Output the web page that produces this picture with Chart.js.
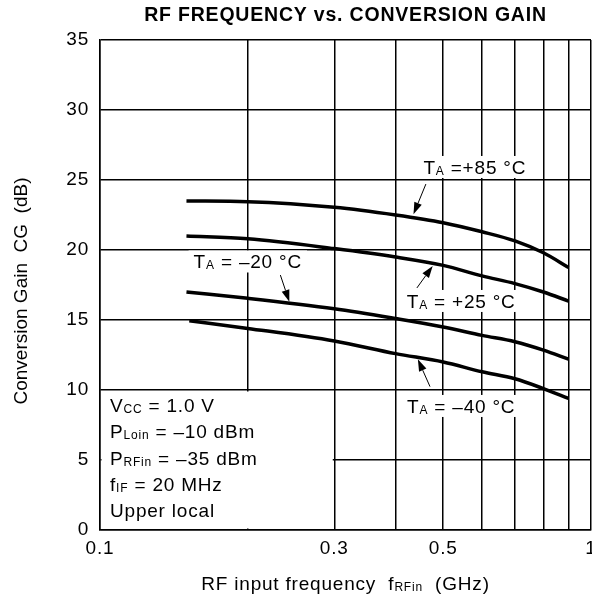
<!DOCTYPE html>
<html>
<head>
<meta charset="utf-8">
<script src="https://cdn.jsdelivr.net/npm/chart.js@4"></script>
<style>
html,body{margin:0;padding:0;background:#fff;}
canvas{display:block;}
</style>
</head>
<body>
<canvas id="c" width="592" height="602"></canvas>
<script>
// ---------- data ----------
const freqGHz     = [0.15, 0.2, 0.3, 0.4, 0.5, 0.6, 0.7, 0.8, 0.9];
const freqGHzM40  = [0.152, 0.2, 0.3, 0.4, 0.5, 0.6, 0.7, 0.8, 0.9];
const gainP85 = [23.5, 23.45, 23.05, 22.5, 21.95, 21.3, 20.65, 19.8, 18.75];
const gainP25 = [21.0, 20.8, 20.1, 19.5, 18.9, 18.15, 17.6, 17.0, 16.35];
const gainM20 = [17.0, 16.55, 15.8, 15.1, 14.5, 13.9, 13.45, 12.85, 12.2];
const gainM40 = [14.95, 14.4, 13.5, 12.6, 12.0, 11.3, 10.8, 10.1, 9.4];
const xTickValues = [0.1, 0.2, 0.3, 0.4, 0.5, 0.6, 0.7, 0.8, 0.9, 1];
const xTickLabels = ['0.1', '', '0.3', '', '0.5', '', '', '', '', '1'];
const yMin = 0, yMax = 35, yStep = 5;

const titleText = 'RF FREQUENCY vs. CONVERSION GAIN';
const yTitle = 'Conversion Gain  CG  (dB)';
const xTitleSegs = [{t:'RF input frequency  f'},{t:'RFin',sub:true},{t:'  (GHz)'}];

const conditions = [
  [{t:'V'},{t:'CC',sub:true},{t:' = 1.0 V'}],
  [{t:'P'},{t:'Loin',sub:true},{t:' = \u201310 dBm'}],
  [{t:'P'},{t:'RFin',sub:true},{t:' = \u201335 dBm'}],
  [{t:'f'},{t:'IF',sub:true},{t:' = 20 MHz'}],
  [{t:'Upper local'}]
];
// temperature labels: text centre (data coords), arrow tail and tip (data coords)
const tempLabels = [
  {segs:[{t:'T'},{t:'A',sub:true},{t:' =+85 \u00B0C'}], x:0.58,  y:25.93, tail:[0.461,24.71], tip:[0.435,22.55]},
  {segs:[{t:'T'},{t:'A',sub:true},{t:' = \u201320 \u00B0C'}], x:0.2,   y:19.18, tail:[0.233,18.21], tip:[0.243,16.3]},
  {segs:[{t:'T'},{t:'A',sub:true},{t:' = +25 \u00B0C'}], x:0.544, y:16.36, tail:[0.442,17.29], tip:[0.476,18.86]},
  {segs:[{t:'T'},{t:'A',sub:true},{t:' = \u201340 \u00B0C'}], x:0.544, y:8.86,  tail:[0.470,10.24], tip:[0.444,12.2]}
];

const FONT = '"Liberation Sans", Arial, Helvetica, sans-serif';
const MAIN = 19, SUB = 12;
const SPACING = '0.8px';

function pts(xs, ys){ return xs.map((v,i)=>({x:v, y:ys[i]})); }

function segWidth(ctx, segs, size, sub){
  let w = 0;
  for (const s of segs){ ctx.font = (s.sub?sub:size)+'px '+FONT; w += ctx.measureText(s.t).width; }
  return w;
}
function drawRich(ctx, segs, x, baseline, align, size, sub){
  const w = segWidth(ctx, segs, size, sub);
  let cx = align==='center' ? x - w/2 : x;
  ctx.textAlign = 'left'; ctx.textBaseline = 'alphabetic';
  for (const s of segs){
    ctx.font = (s.sub?sub:size)+'px '+FONT;
    ctx.fillText(s.t, cx, baseline + (s.sub?1:0));
    cx += ctx.measureText(s.t).width;
  }
  return w;
}
function arrow(ctx, x1, y1, x2, y2){
  const ang = Math.atan2(y2-y1, x2-x1), L = 12, H = 4;
  const bx = x2 - L*Math.cos(ang), by = y2 - L*Math.sin(ang);
  ctx.beginPath(); ctx.moveTo(x1,y1); ctx.lineTo(bx,by); ctx.lineWidth = 1; ctx.stroke();
  ctx.beginPath();
  ctx.moveTo(x2,y2);
  ctx.lineTo(bx + H*Math.sin(ang), by - H*Math.cos(ang));
  ctx.lineTo(bx - H*Math.sin(ang), by + H*Math.cos(ang));
  ctx.closePath(); ctx.fill();
}

const annot = {
  id: 'annot',
  beforeDraw(chart){
    chart.ctx.letterSpacing = SPACING;
  },
  beforeDatasetsDraw(chart){
    const {ctx, scales:{x, y}} = chart;
    ctx.save();
    ctx.fillStyle = '#fff';
    // conditions box (white, bordered by the grid lines at 0.3 GHz and 10 dB)
    const l = x.getPixelForValue(0.1)+1.5, r = x.getPixelForValue(0.3)-1.5;
    const t = y.getPixelForValue(10)+1.5, b = y.getPixelForValue(0)-1.5;
    ctx.fillRect(l, t, r-l, b-t);
    for (const a of tempLabels){
      const w = segWidth(ctx, a.segs, MAIN, SUB);
      const cx = x.getPixelForValue(a.x), cy = y.getPixelForValue(a.y);
      ctx.fillRect(cx - w/2 - 5, cy - 11, w + 10, 22);
    }
    ctx.restore();
  },
  afterDatasetsDraw(chart){
    const {ctx, scales:{x, y}} = chart;
    ctx.save();
    ctx.fillStyle = '#000'; ctx.strokeStyle = '#000';
    ctx.letterSpacing = SPACING;
    for (const a of tempLabels){
      const cx = x.getPixelForValue(a.x), cy = y.getPixelForValue(a.y);
      drawRich(ctx, a.segs, cx, cy + 7, 'center', MAIN, SUB);
      arrow(ctx, x.getPixelForValue(a.tail[0]), y.getPixelForValue(a.tail[1]),
                 x.getPixelForValue(a.tip[0]),  y.getPixelForValue(a.tip[1]));
    }
    const bx = x.getPixelForValue(0.1) + 10;
    let base = y.getPixelForValue(10) + 22;
    for (const line of conditions){
      drawRich(ctx, line, bx, base, 'left', MAIN, SUB);
      base += 26.3;
    }
    // chart title
    const ca = chart.chartArea;
    ctx.font = 'bold 19.5px '+FONT;
    ctx.textAlign = 'center'; ctx.textBaseline = 'middle';
    ctx.fillText(titleText, (ca.left+ca.right)/2, 16);
    // x axis title
    drawRich(ctx, xTitleSegs, (ca.left+ca.right)/2, 590, 'center', MAIN, SUB);
    // y axis title
    ctx.letterSpacing = '0px';
    ctx.translate(22, (ca.top+ca.bottom)/2 + 6);
    ctx.rotate(-Math.PI/2);
    ctx.font = MAIN+'px '+FONT;
    ctx.textAlign = 'center'; ctx.textBaseline = 'middle';
    ctx.fillText(yTitle, 0, 0);
    ctx.restore();
  }
};

const lineStyle = {borderColor:'#000', borderWidth:3.5, pointRadius:0, fill:false, cubicInterpolationMode:'monotone'};

new Chart(document.getElementById('c'), {
  type: 'line',
  data: {
    datasets: [
      Object.assign({label:'TA=+85°C', data: pts(freqGHz, gainP85)}, lineStyle),
      Object.assign({label:'TA=+25°C', data: pts(freqGHz, gainP25)}, lineStyle),
      Object.assign({label:'TA=-20°C', data: pts(freqGHz, gainM20)}, lineStyle),
      Object.assign({label:'TA=-40°C', data: pts(freqGHzM40, gainM40)}, lineStyle)
    ]
  },
  options: {
    responsive: false,
    animation: false,
    layout: {padding: {left:0, right:1, top:40, bottom:0}},
    plugins: {legend:{display:false}, tooltip:{enabled:false}, title:{display:false}},
    scales: {
      x: {
        type: 'logarithmic',
        min: 0.1, max: 1,
        afterBuildTicks(scale){ scale.ticks = xTickValues.map(v=>({value:v})); },
        afterFit(scale){ scale.height = 72; scale.paddingLeft = 0; scale.paddingRight = 0; },
        grid: {color:'#000', lineWidth:1.5, drawTicks:false},
        border: {color:'#000', width:1.5},
        ticks: {
          autoSkip:false, maxRotation:0, padding:7,
          color:'#000', font:{family:FONT, size:MAIN},
          callback(v, i){ return xTickLabels[i]; }
        }
      },
      y: {
        min: yMin, max: yMax,
        afterFit(scale){ scale.width = 100; scale.paddingTop = 0; scale.paddingBottom = 0; },
        grid: {color:'#000', lineWidth:1.5, drawTicks:false},
        border: {color:'#000', width:1.5},
        ticks: {stepSize: yStep, padding:11, color:'#000', font:{family:FONT, size:MAIN}}
      }
    }
  },
  plugins: [annot]
});
</script>
</body>
</html>
